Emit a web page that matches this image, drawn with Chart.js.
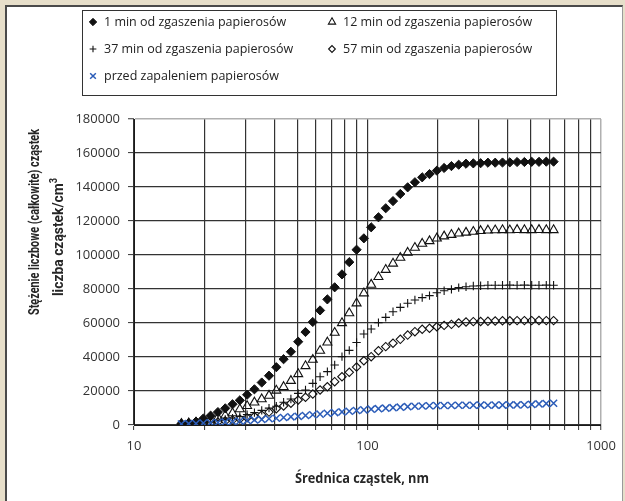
<!DOCTYPE html>
<html>
<head>
<meta charset="utf-8">
<script src="https://cdn.jsdelivr.net/npm/chart.js@4.4.1/dist/chart.umd.min.js"></script>
<style>
  body { margin: 0; width: 625px; height: 501px; background: #e7dfca; position: relative; overflow: hidden;
         font-family: 'Open Sans', sans-serif; color: #222; }
  #panel { position: absolute; left: 5px; top: 5px; width: 615px; height: 500px; background: #fff;
           border-left: 2px solid #4a4a4a; border-top: 2px solid #4a4a4a; border-right: 1px solid #9a9a9a; }
  #chart { position: absolute; left: 0; top: 0; }
  #legend { position: absolute; left: 82px; top: 10px; width: 475px; height: 86px; border: 1px solid #333; box-sizing: border-box; }
  .item { position: absolute; font-size: 12.5px; line-height: 16px; white-space: nowrap; color: #222; }
  .item canvas { position: absolute; left: -17px; top: 2px; }
  .title { position: absolute; white-space: nowrap; font-weight: 700; color: #262626; }
  .ytitle { font-family: Roboto, sans-serif; font-size: 15px; line-height: 17px; }
</style>
</head>
<body>
<div id="panel"></div>
<canvas id="chart" width="625" height="501"></canvas>
<div id="legend"></div>
<div class="title ytitle" id="ytitle1" style="left:34px;top:222px">Stężenie liczbowe (całkowite) cząstek</div>
<div class="title ytitle" id="ytitle2" style="left:56px;top:237px">liczba cząstek/cm<sup style="font-size:10px">3</sup></div>
<div class="title" id="xtitle" style="left:362px;top:477px;font-size:14px">Średnica cząstek, nm</div>

<script>
    // Données
    const diameters = [15.96, 17.15, 18.43, 19.81, 21.29, 22.88, 24.59, 26.42, 28.39, 30.51, 32.79, 35.24, 37.86,
        40.69, 43.72, 46.98, 50.49, 54.26, 58.30, 62.65, 67.32, 72.35, 77.75, 83.54, 89.78, 96.48, 103.7, 111.4,
        119.7, 128.6, 138.2, 148.6, 159.6, 171.5, 184.3, 198.1, 212.9, 228.8, 245.8, 264.2, 283.9, 305.1, 327.9,
        352.3, 378.6, 406.9, 437.2, 469.8, 504.9, 542.5, 583.0, 626.5];

    const min1 = [800, 1200, 2000, 3800, 5500, 7600, 9800, 12200, 14500, 17800, 21000, 25000, 29000, 34000, 38700,
        43100, 49000, 54700, 60600, 67400, 73900, 81000, 88600, 95800, 103100, 109800, 116300, 122200, 127500,
        131700, 135900, 139800, 142800, 145700, 147600, 149600, 151200, 152300, 153100, 153700, 153900, 154000,
        154300, 154300, 154400, 154500, 154700, 154700, 154800, 154800, 154900, 154900];

    const min12 = [700, 1000, 1500, 2300, 3200, 4300, 5600, 7000, 9300, 11200, 13300, 15200, 17300, 20300, 22400,
        26000, 30000, 34700, 38400, 43700, 48600, 54300, 60000, 65800, 71600, 77500, 82600, 87100, 91300, 95000,
        98400, 101400, 104300, 106700, 108200, 109800, 111000, 111900, 112700, 113200, 113700, 114200, 114500,
        114600, 114700, 114600, 114800, 114700, 114700, 114800, 114700, 114700];

    const min37 = [500, 700, 1000, 1400, 1900, 2500, 3200, 4000, 5000, 6100, 7300, 8600, 9900, 11000, 13400, 15300,
        18600, 20600, 24500, 28400, 31400, 35300, 40200, 43900, 48500, 53500, 56500, 60200, 63300, 66600, 69200,
        71600, 73500, 74900, 76100, 77800, 79000, 79800, 80800, 81300, 81800, 81900, 82200, 82200, 82200, 82300,
        82200, 82300, 82200, 82200, 82300, 82200];

    const min57 = [400, 600, 800, 1100, 1400, 1800, 2300, 2900, 3500, 4200, 5000, 5900, 7600, 9600, 11200, 12800,
        14700, 16300, 18200, 20600, 22500, 25500, 28400, 31000, 34100, 37800, 40200, 43700, 46100, 48100, 50400,
        52900, 54900, 56300, 56900, 57800, 58600, 59200, 60000, 60600, 60800, 60900, 61000, 61200, 61300, 61300,
        61400, 61400, 61400, 61500, 61400, 61400];

    const before = [600, 800, 900, 1100, 1300, 1500, 1800, 2000, 2300, 2700, 3000, 3300, 3700, 4000, 4400, 4800,
        5100, 5600, 6000, 6400, 6900, 7300, 7700, 8100, 8500, 8900, 9300, 9600, 9900, 10200, 10500, 10800, 11000,
        11200, 11300, 11400, 11500, 11500, 11600, 11600, 11600, 11700, 11600, 11700, 11700, 11800, 11800, 11900,
        12100, 12400, 12600, 12800];

    const seriesLabels = ['1 min od zgaszenia papierosów', '12 min od zgaszenia papierosów',
        '37 min od zgaszenia papierosów', '57 min od zgaszenia papierosów', 'przed zapaleniem papierosów'];

    const xGridValues = [10, 20, 30, 40, 50, 60, 70, 80, 90, 100, 200, 300, 400, 500, 600, 700, 800, 900, 1000];
    const xLabels = [10, 100, 1000];
    const yTicks = [0, 20000, 40000, 60000, 80000, 100000, 120000, 140000, 160000, 180000];

    const BLUE = '#2b5cb8';
    const tickFont = { family: 'Open Sans', size: 13 };

    // Styles des séries
    const styles = [
        { pointStyle: 'rectRot', radius: 4.6, bg: '#111', border: '#111', width: 1, order: 1 },
        { pointStyle: 'triangle', radius: 5.2, bg: 'rgba(0,0,0,0)', border: '#111', width: 1.1, order: 2 },
        { pointStyle: 'cross', radius: 4.2, bg: 'rgba(0,0,0,0)', border: '#111', width: 1.1, order: 3 },
        { pointStyle: 'rectRot', radius: 4.2, bg: 'rgba(0,0,0,0)', border: '#111', width: 1.1, order: 4 },
        { pointStyle: 'crossRot', radius: 5, bg: 'rgba(0,0,0,0)', border: BLUE, width: 1.5, order: 0 }
    ];
    const values = [min1, min12, min37, min57, before];

    const datasets = values.map((vals, s) => ({
        label: seriesLabels[s],
        data: diameters.map((d, i) => ({ x: d, y: vals[i] })),
        showLine: false,
        pointStyle: styles[s].pointStyle,
        pointRadius: styles[s].radius,
        pointBackgroundColor: styles[s].bg,
        pointBorderColor: styles[s].border,
        pointBorderWidth: styles[s].width,
        order: styles[s].order
    }));

    new Chart(document.getElementById('chart'), {
        type: 'scatter',
        data: { datasets },
        options: {
            responsive: false,
            animation: false,
            events: [],
            layout: { padding: { top: 119, right: 24, left: 0, bottom: 0 } },
            plugins: { legend: { display: false }, tooltip: { enabled: false } },
            scales: {
                x: {
                    type: 'logarithmic',
                    min: 10,
                    max: 1000,
                    afterBuildTicks: s => { s.ticks = xGridValues.map(v => ({ value: v })); },
                    afterFit: s => { s.height = 76; },
                    ticks: {
                        autoSkip: false, maxRotation: 0, font: tickFont, color: '#333', padding: 8,
                        callback: v => xLabels.includes(v) ? String(v) : ''
                    },
                    grid: {
                        color: c => (c.tick && c.tick.value === 1000) ? '#b0b0b0' : '#333',
                        lineWidth: c => (c.tick && c.tick.value === 1000) ? 1.5 : 1.2,
                        tickLength: 5, tickColor: '#333', tickWidth: 1
                    },
                    border: { color: '#1a1a1a', width: 1 }
                },
                y: {
                    min: 0,
                    max: 180000,
                    afterBuildTicks: s => { s.ticks = yTicks.map(v => ({ value: v })); },
                    afterFit: s => { s.width = 134; },
                    ticks: { font: tickFont, color: '#333', padding: 8, callback: v => String(v) },
                    grid: {
                        color: c => (c.tick && c.tick.value === 180000) ? '#b0b0b0' : '#333',
                        lineWidth: c => (c.tick && c.tick.value === 180000) ? 1.5 : 1.2,
                        tickLength: 6, tickColor: '#333', tickWidth: 1
                    },
                    border: { color: '#1a1a1a', width: 1 }
                }
            }
        }
    });

    // Légende sur deux colonnes
    const legend = document.getElementById('legend');
    const slots = [[21, 3], [260, 3], [21, 30], [260, 30], [21, 57]];
    seriesLabels.forEach((label, s) => {
        const item = document.createElement('div');
        item.className = 'item';
        item.style.left = slots[s][0] + 'px';
        item.style.top = slots[s][1] + 'px';
        item.textContent = label;
        const mk = document.createElement('canvas');
        mk.width = 12; mk.height = 12;
        const ctx = mk.getContext('2d');
        ctx.fillStyle = styles[s].bg;
        ctx.strokeStyle = styles[s].border;
        ctx.lineWidth = styles[s].width;
        if (Chart.helpers && Chart.helpers.drawPoint) {
            Chart.helpers.drawPoint(ctx, { pointStyle: styles[s].pointStyle, radius: styles[s].radius * 0.8,
                borderWidth: styles[s].width, rotation: 0 }, 6, 6);
        }
        item.appendChild(mk);
        legend.appendChild(item);
    });

    // Ajuster la largeur des titres d'axes
    function fit(id, target, rotated) {
        const el = document.getElementById(id);
        const k = target / el.offsetWidth;
        el.style.transform = 'translate(-50%,-50%)' + (rotated ? ' rotate(-90deg)' : '') + ' scaleX(' + k + ')';
    }
    function fitAll() {
        fit('ytitle1', 186, true);
        fit('ytitle2', 118, true);
        fit('xtitle', 134, false);
    }
    fitAll();
    if (document.fonts && document.fonts.ready) document.fonts.ready.then(fitAll);
</script>
</body>
</html>
